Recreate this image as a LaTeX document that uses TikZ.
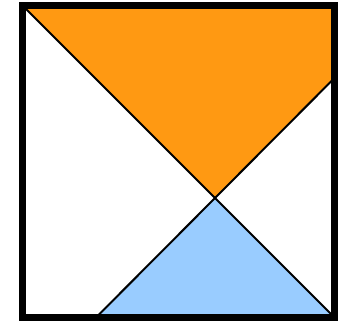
\documentclass[tikz,border=0pt]{standalone}
\usepackage{tikz}
\usepackage{xcolor}

\definecolor{wedgeorange}{HTML}{FF9912}
\definecolor{wedgeblue}{HTML}{99CCFF}

\begin{document}
\begin{tikzpicture}[
    x=0.03cm, y=-0.03cm,
    frame/.style={draw=black, line width=0.21cm},
    cut/.style={draw=black, line width=0.06cm}
]
    \useasboundingbox (0,0) rectangle (339,322);

    % Corners and cut points
    \coordinate (tl) at (22.5,5.5);
    \coordinate (tr) at (334.5,5.5);
    \coordinate (br) at (334.5,317.5);
    \coordinate (bl) at (22.5,317.5);
    \coordinate (rcut) at (334.5,78);
    \coordinate (bcut) at (96,317.5);
    \coordinate (mid) at (intersection of tl--br and rcut--bcut);

    % Wedges
    \fill[wedgeorange] (tl) -- (tr) -- (rcut) -- (mid) -- cycle;
    \fill[wedgeblue] (mid) -- (br) -- (bcut) -- cycle;

    % Cuts
    \draw[cut] (tl) -- (br);
    \draw[cut] (rcut) -- (bcut);

    % Frame
    \draw[frame] (tl) rectangle (br);
\end{tikzpicture}
\end{document}
